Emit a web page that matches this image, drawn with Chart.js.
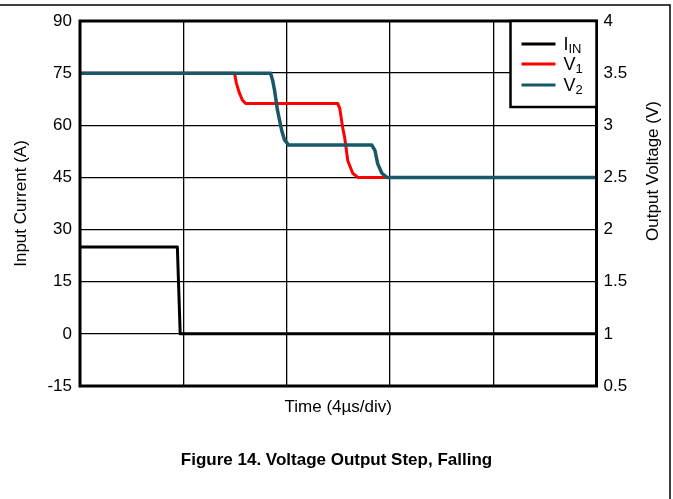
<!DOCTYPE html>
<html>
<head>
<meta charset="utf-8">
<script src="https://cdn.jsdelivr.net/npm/chart.js@4.4.1/dist/chart.umd.min.js"></script>
<style>
  html, body { margin: 0; padding: 0; background: #fff; }
</style>
</head>
<body>
<canvas id="stepChart" width="673" height="499"></canvas>
<script>
// ─── Data (time in µs, 4 µs per division) ─────────────────────────────────────
const iinTime = [0, 3.77, 3.88, 20];
const iinAmps = [25, 25, 0, 0];

const v1Time = [0, 5.98, 6.06, 6.17, 6.29, 6.41, 9.98, 10.06, 10.17, 10.25, 10.37, 10.56, 10.76, 20];
const v1Volts = [3.5, 3.5, 3.40, 3.31, 3.24, 3.21, 3.21, 3.16, 2.98, 2.88, 2.66, 2.54, 2.5, 2.5];

const v2Time = [0, 7.38, 7.46, 7.53, 7.65, 7.81, 7.92, 8.08, 11.30, 11.42, 11.53, 11.69, 11.88, 20];
const v2Volts = [3.5, 3.5, 3.43, 3.34, 3.14, 2.95, 2.86, 2.81, 2.81, 2.76, 2.63, 2.54, 2.5, 2.5];

const seriesMain = ['I', 'V', 'V'];
const seriesSub = ['IN', '1', '2'];
const seriesColors = ['#000000', '#ff0000', '#195866'];

const toPoints = (xs, ys) => xs.map((x, i) => ({ x, y: ys[i] }));

const FONT = "'Liberation Sans', Arial, Helvetica, sans-serif";

// ─── Frame, plot border, legend box, right axis title ─────────────────────────
const decorPlugin = {
  id: 'decor',
  afterDraw(chart) {
    const { ctx, chartArea: a } = chart;
    ctx.save();

    // outer page frame (top + right)
    ctx.strokeStyle = '#000';
    ctx.lineWidth = 1.5;
    ctx.beginPath();
    ctx.moveTo(0, 5);
    ctx.lineTo(670, 5);
    ctx.lineTo(670, 499);
    ctx.stroke();

    // plot border
    ctx.lineWidth = 3;
    ctx.strokeRect(a.left, a.top, a.right - a.left, a.bottom - a.top);

    // legend box
    const bx = a.right - 86, by = a.top;
    ctx.fillStyle = '#fff';
    ctx.fillRect(bx, by, 86, 86);
    ctx.lineWidth = 2.5;
    ctx.strokeRect(bx, by, 86, 86);
    const rows = [23, 43, 64];
    rows.forEach((dy, i) => {
      const y = by + dy;
      ctx.strokeStyle = seriesColors[i];
      ctx.lineWidth = 3;
      ctx.beginPath();
      ctx.moveTo(bx + 11, y);
      ctx.lineTo(bx + 45, y);
      ctx.stroke();
      ctx.fillStyle = '#000';
      ctx.textBaseline = 'alphabetic';
      ctx.textAlign = 'left';
      ctx.font = '18px ' + FONT;
      ctx.fillText(seriesMain[i], bx + 53, y + 6);
      const w = ctx.measureText(seriesMain[i]).width;
      ctx.font = '13px ' + FONT;
      ctx.fillText(seriesSub[i], bx + 53 + w, y + 9);
    });

    // right axis title, reading bottom-to-top like the left one
    ctx.fillStyle = '#000';
    ctx.font = '17px ' + FONT;
    ctx.textAlign = 'center';
    ctx.textBaseline = 'middle';
    ctx.translate(653, 171);
    ctx.rotate(-Math.PI / 2);
    ctx.fillText('Output Voltage (V)', 0, 0);
    ctx.restore();
  },
};

// ─── Chart ────────────────────────────────────────────────────────────────────
new Chart(document.getElementById('stepChart'), {
  type: 'line',
  data: {
    datasets: [
      {
        label: 'IIN',
        data: toPoints(iinTime, iinAmps),
        borderColor: seriesColors[0],
        borderWidth: 3,
        yAxisID: 'y',
        order: 2,
      },
      {
        label: 'V1',
        data: toPoints(v1Time, v1Volts),
        borderColor: seriesColors[1],
        borderWidth: 3,
        yAxisID: 'y1',
        order: 1,
      },
      {
        label: 'V2',
        data: toPoints(v2Time, v2Volts),
        borderColor: seriesColors[2],
        borderWidth: 3.5,
        yAxisID: 'y1',
        order: 0,
      },
    ],
  },
  options: {
    responsive: false,
    animation: false,
    parsing: false,
    elements: { point: { radius: 0 }, line: { tension: 0, borderJoinStyle: 'round' } },
    layout: { padding: { top: 21, left: 0, right: 0, bottom: 0 } },
    plugins: {
      legend: { display: false },
      tooltip: { enabled: false },
      title: {
        display: true,
        position: 'bottom',
        text: 'Figure 14. Voltage Output Step, Falling',
        color: '#000',
        font: { family: FONT, size: 17, weight: 'bold', lineHeight: 1.2 },
        padding: { top: 13.8, bottom: 28.8 },
      },
    },
    scales: {
      x: {
        type: 'linear',
        min: 0, max: 20,
        ticks: { display: false, stepSize: 4 },
        grid: { color: '#000', lineWidth: 1.3, drawTicks: false },
        border: { display: false },
        title: {
          display: true,
          text: 'Time (4µs/div)',
          color: '#000',
          font: { family: FONT, size: 17, lineHeight: 1.2 },
          padding: { top: 0, bottom: 18.8 },
        },
        afterFit: (s) => { s.height = 50; },
      },
      y: {
        position: 'left',
        min: -15, max: 90,
        ticks: { stepSize: 15, color: '#000', padding: 8, font: { family: FONT, size: 17 } },
        grid: { color: '#000', lineWidth: 1.3, drawTicks: false },
        border: { display: false },
        title: {
          display: true,
          text: 'Input Current (A)',
          color: '#000',
          font: { family: FONT, size: 17, lineHeight: 1.2 },
          padding: { top: 11, bottom: 0 },
        },
        afterFit: (s) => { s.width = 80; },
      },
      y1: {
        position: 'right',
        min: 0.5, max: 4,
        ticks: {
          stepSize: 0.5, color: '#000', padding: 7, font: { family: FONT, size: 17 },
          callback: (v) => String(v),
        },
        grid: { drawOnChartArea: false, drawTicks: false },
        border: { display: false },
        afterFit: (s) => { s.width = 76.5; },
      },
    },
  },
  plugins: [decorPlugin],
});
</script>
</body>
</html>
